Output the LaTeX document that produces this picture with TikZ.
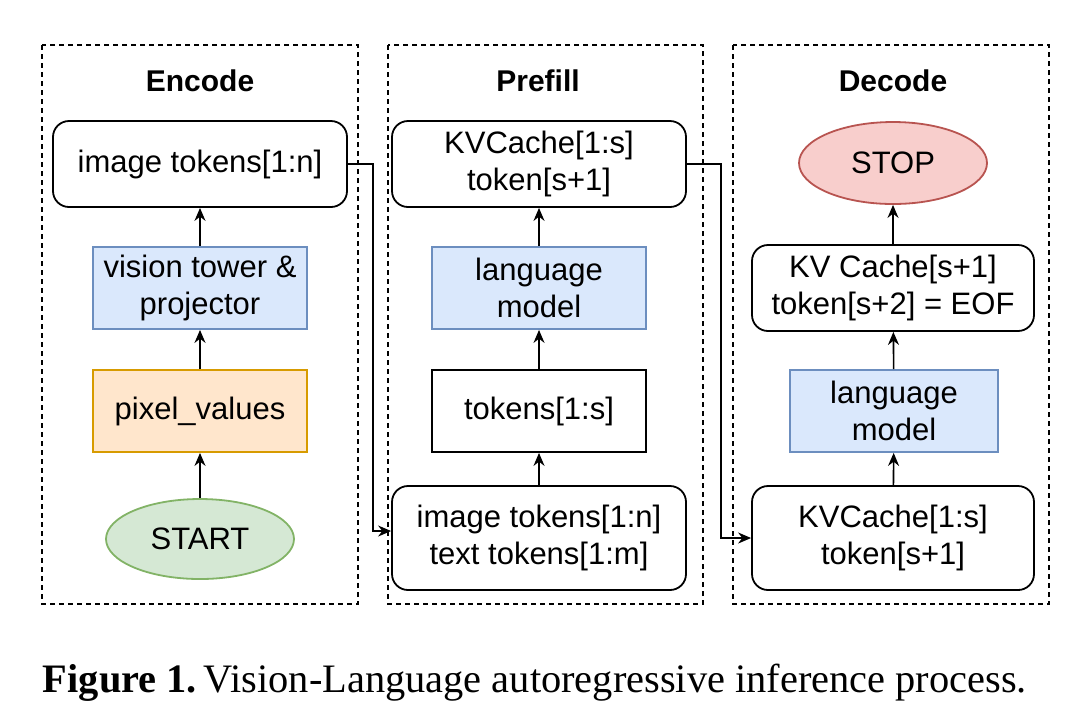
\documentclass[tikz,border=0pt]{standalone}
\usepackage{fontspec}
\setmainfont{Liberation Sans}
\newfontfamily\capfont{Liberation Serif}
\usetikzlibrary{arrows.meta,shapes.geometric}

\definecolor{bluefill}{HTML}{DAE8FC}\definecolor{bluedraw}{HTML}{6C8EBF}
\definecolor{orgfill}{HTML}{FFE6CC}\definecolor{orgdraw}{HTML}{D79B00}
\definecolor{grnfill}{HTML}{D5E8D4}\definecolor{grndraw}{HTML}{82B366}
\definecolor{redfill}{HTML}{F8CECC}\definecolor{reddraw}{HTML}{B85450}

\tikzset{
  panel/.style={draw,line width=0.7pt,dash pattern=on 2.5pt off 2pt},
  ttl/.style={font=\fontsize{15}{18}\selectfont\bfseries},
  box/.style={draw,line width=0.9pt,align=center,font=\fontsize{15.5}{18.5}\selectfont,inner sep=0pt},
  rbox/.style={box,rounded corners=8pt,minimum width=147pt},
  bluebox/.style={box,fill=bluefill,draw=bluedraw,minimum width=107pt,minimum height=41pt},
  oval/.style={box,ellipse,minimum width=94pt,minimum height=40pt},
  arr/.style={line width=0.8pt,-{Stealth[length=6.5pt,width=5.5pt]}}
}

\begin{document}
\begin{tikzpicture}[x=0.5pt,y=-0.5pt]
  \useasboundingbox (0,0) rectangle (1080,720);
  \draw[panel] (42,45) rectangle (358,604);
  \draw[panel] (388,45) rectangle (703,604);
  \draw[panel] (733,45) rectangle (1049,604);
  \node[ttl] (tenc) at (200,81) {Encode};
  \node[ttl] (tpre) at (538,81) {Prefill};
  \node[ttl] (tdec) at (893,81) {Decode};

  % encode
  \node[rbox,minimum height=43pt] (imgtok) at (200,164) {image tokens[1:n]};
  \node[bluebox] (vision) at (200,288) {vision tower \&\\projector};
  \node[box,fill=orgfill,draw=orgdraw,minimum width=107pt,minimum height=41pt] (pixel) at (200,411) {pixel\_values};
  \node[oval,fill=grnfill,draw=grndraw] (start) at (200,539) {START};

  % prefill
  \node[rbox,minimum height=43pt] (kvout) at (539,164) {KVCache[1:s]\\token[s+1]};
  \node[bluebox] (lmpre) at (539,288) {language\\model};
  \node[box,minimum width=107pt,minimum height=41pt] (tok) at (539,411) {tokens[1:s]};
  \node[rbox,minimum height=52pt] (inp) at (539,538) {image tokens[1:n]\\text tokens[1:m]};

  % decode
  \node[oval,fill=redfill,draw=reddraw,minimum height=41pt] (stop) at (893,163) {STOP};
  \node[rbox,minimum width=141pt,minimum height=43pt] (kvnext) at (893,288) {KV Cache[s+1]\\token[s+2] = EOF};
  \node[bluebox,minimum width=104pt] (lmdec) at (894,411) {language\\model};
  \node[rbox,minimum width=141pt,minimum height=52pt] (kvin) at (893,538) {KVCache[1:s]\\token[s+1]};

  \draw[arr] (start) -- (pixel);
  \draw[arr] (pixel) -- (vision);
  \draw[arr] (vision) -- (imgtok);
  \draw[arr] (inp) -- (tok);
  \draw[arr] (tok) -- (lmpre);
  \draw[arr] (lmpre) -- (kvout);
  \draw[arr] (kvin) -- (lmdec);
  \draw[arr] (lmdec) -- (kvnext);
  \draw[arr] (kvnext) -- (stop);
  \draw[arr] (imgtok.east) -- ++(12.5pt,0) |- ([yshift=3.5pt]inp.west);
  \draw[arr] (kvout.east) -- ++(17pt,0) |- (kvin.west);

  \node[font=\capfont\fontsize{20.2}{24}\selectfont] (cap) at (535,683) {\textbf{Figure 1.}\,Vision-Language autoregressive inference process.};
\end{tikzpicture}
\end{document}
